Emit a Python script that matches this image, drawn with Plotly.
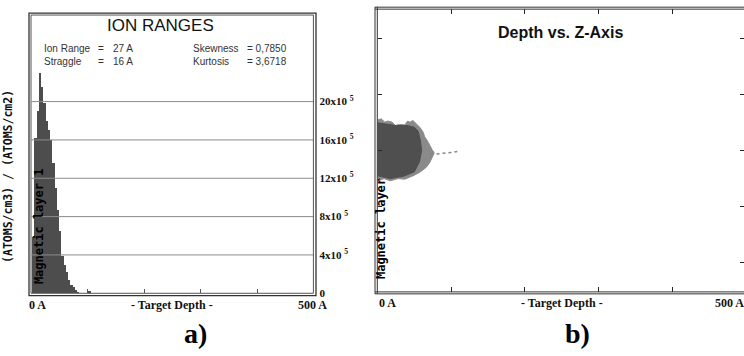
import plotly.graph_objects as go

W, H = 744, 356

# ---------------- data ----------------
# Panel a) ion range histogram (4 A bins), values in units of 1e5 atoms
bin_start = [0, 4, 8, 12, 16, 20, 24, 28, 32, 36, 40, 44, 48, 52, 56, 60, 64, 68, 72, 76, 80, 100]
bin_value = [5.85, 16.2, 19.0, 23.0, 21.5, 19.8, 18.0, 17.0, 16.0, 13.6, 11.0, 8.7, 6.5, 3.9, 2.9, 2.2, 1.4, 0.9, 0.6, 0.3, 0.15, 0.2]
bin_width = 4
y_tick_vals = [0, 4, 8, 12, 16, 20]
y_tick_text = ["0", "4x10 <sup>5</sup>", "8x10 <sup>5</sup>", "12x10 <sup>5</sup>",
               "16x10 <sup>5</sup>", "20x10 <sup>5</sup>"]
x_tick_vals = [100, 200, 300, 400]

# Panel b) depth vs z-axis cloud outline (depth A, z A)
cloud_outer_x = [0, 5, 10, 14, 20, 24, 30, 37, 41, 44, 48, 51, 55, 58, 62, 64, 68, 71, 74, 77,
                 74, 72, 71, 66, 58, 50, 37, 28, 17, 9, 3, 0]
cloud_outer_z = [55, 57, 51, 53, 51, 45, 47, 46, 53, 51, 54, 50, 46, 41, 33, 25, 17, 8, 2, -4,
                 -12, -16, -21, -30, -38, -44, -51, -50, -54, -50, -53, -44]
cloud_core_x = [0, 10, 25, 40, 50, 55, 58, 60, 57, 50, 35, 17, 0]
cloud_core_z = [50, 48, 45, 45, 42, 35, 20, 0, -20, -38, -46, -50, -45]
tail_x = [72, 82, 92, 101, 110]
tail_z = [-7, -6, -5, -3, -1]
z_tick_vals = [-200, -100, 0, 100, 200]

stats_left = [("Ion Range", "=", "27 A"), ("Straggle", "=", "16 A")]
stats_right = [("Skewness", "= 0,7850"), ("Kurtosis", "= 3,6718")]


def px(x):
    return x / W


def py(y):
    return 1 - y / H


fig = go.Figure()

fig.add_trace(go.Bar(
    x=[s + bin_width / 2 for s in bin_start], y=[v * 1e5 for v in bin_value],
    width=bin_width, marker=dict(color="#4d4d4d", line=dict(width=0)),
    xaxis="x", yaxis="y", hoverinfo="skip"))

fig.add_trace(go.Scatter(x=cloud_outer_x, y=cloud_outer_z, fill="toself", mode="lines",
                         fillcolor="#8a8a8a", line=dict(color="#8a8a8a", width=1),
                         xaxis="x2", yaxis="y2", hoverinfo="skip"))
fig.add_trace(go.Scatter(x=cloud_core_x, y=cloud_core_z, fill="toself", mode="lines",
                         fillcolor="#4f4f4f", line=dict(color="#4f4f4f", width=1),
                         xaxis="x2", yaxis="y2", hoverinfo="skip"))
fig.add_trace(go.Scatter(x=tail_x, y=tail_z, mode="lines",
                         line=dict(color="#888", width=1.5, dash="dot"),
                         xaxis="x2", yaxis="y2", hoverinfo="skip"))

x2_max = 500 * (744 - 377.5) / 368.3

fig.update_layout(
    width=W, height=H, margin=dict(l=0, r=0, t=0, b=0),
    paper_bgcolor="white", plot_bgcolor="white", showlegend=False, bargap=0,
    xaxis=dict(domain=[px(31.5), px(313.4)], range=[0, 500], tickvals=x_tick_vals,
               ticks="inside", ticklen=4, tickcolor="#555", showticklabels=False,
               showgrid=False, zeroline=False, showline=False),
    yaxis=dict(domain=[py(298.3), py(15.3)], range=[0, 29.03e5], side="right",
               tickvals=[v * 1e5 for v in y_tick_vals], ticktext=y_tick_text,
               ticks="", ticklabelstandoff=5, showgrid=False, zeroline=False, showline=False,
               tickfont=dict(family="Liberation Serif", size=11, color="#111", weight="bold"),
               anchor="x"),
    xaxis2=dict(domain=[px(377.5), 1], range=[0, x2_max], tickvals=x_tick_vals,
                ticks="inside", ticklen=5, tickcolor="#222", mirror="ticks",
                showticklabels=False, showgrid=False, zeroline=False, showline=False,
                anchor="y2"),
    yaxis2=dict(domain=[py(297), py(9.5)], range=[-253, 253], tickvals=z_tick_vals,
                ticks="inside", ticklen=4, tickcolor="#222", mirror="ticks",
                showticklabels=False, showgrid=False, zeroline=False, showline=False,
                anchor="x2"),
)

shapes = []
# grid lines above bars
for v in y_tick_vals[1:]:
    shapes.append(dict(type="line", xref="x domain", yref="y", x0=0, x1=1,
                       y0=v * 1e5, y1=v * 1e5, line=dict(color="#8c8c8c", width=1),
                       layer="above"))
# left panel double frame
shapes.append(dict(type="rect", xref="paper", yref="paper", x0=px(29), x1=px(316),
                   y0=py(300.7), y1=py(13.3), line=dict(color="#333", width=1.3)))
shapes.append(dict(type="rect", xref="paper", yref="paper", x0=px(31), x1=px(313.4),
                   y0=py(298.3), y1=py(15.3), line=dict(color="#555", width=1)))
# right panel frame lines (double)
for xx in (375, 377.3):
    shapes.append(dict(type="line", xref="paper", yref="paper", x0=px(xx), x1=px(xx),
                       y0=py(299), y1=py(7), line=dict(color="#333", width=1)))
for yy in (7.3, 9.3, 296.9, 298.9):
    shapes.append(dict(type="line", xref="paper", yref="paper", x0=px(375), x1=1,
                       y0=py(yy), y1=py(yy), line=dict(color="#333", width=1)))
fig.update_layout(shapes=shapes)

ann = []


def text(x, y, s, size, family="Liberation Sans", color="#111", xanchor="center",
         angle=0, bold=False):
    ann.append(dict(xref="paper", yref="paper", x=px(x), y=py(y), text=s,
                    showarrow=False, xanchor=xanchor, yanchor="middle", textangle=angle,
                    font=dict(family=family, size=size, color=color,
                              weight="bold" if bold else "normal")))


text(160, 26, "ION RANGES", 17)
for i, (a, b, c) in enumerate(stats_left):
    yy = 49 + 14 * i
    text(42, yy, a, 10, color="#333", xanchor="left")
    text(96, yy, b, 10, color="#333", xanchor="left")
    text(111, yy, c, 10, color="#333", xanchor="left")
for i, (a, b) in enumerate(stats_right):
    yy = 49 + 14 * i
    text(191, yy, a, 10, color="#333", xanchor="left")
    text(245, yy, b, 10, color="#333", xanchor="left")

text(8, 180, "(ATOMS/cm3) / (ATOMS/cm2)", 11.5, family="DejaVu Sans Mono", angle=-90, bold=True)
text(39, 230, "Magnetic layer 1", 12, family="DejaVu Sans Mono", color="#000", angle=-90, bold=True)
text(381, 233, "Magnetic layer", 12, family="DejaVu Sans Mono", color="#000", angle=-90, bold=True)

text(27, 310, "0 A", 12, family="Liberation Serif", xanchor="left", bold=True)
text(172, 310, "- Target Depth -", 12, family="Liberation Serif", bold=True)
text(312, 310, "500 A", 12, family="Liberation Serif", bold=True)
text(377, 308, "0 A", 12, family="Liberation Serif", xanchor="left", bold=True)
text(562, 308, "- Target Depth -", 12, family="Liberation Serif", bold=True)
text(713, 308, "500 A", 12, family="Liberation Serif", xanchor="left", bold=True)

text(560, 33, "Depth vs. Z-Axis", 16, bold=True)
text(195, 339, "a)", 28, family="Liberation Serif", color="#000", bold=True)
text(577, 339, "b)", 28, family="Liberation Serif", color="#000", bold=True)

fig.update_layout(annotations=ann)
fig.write_html("out.html", config={"displayModeBar": False},
               post_script="document.body.style.margin='0';document.body.style.overflow='hidden';")
